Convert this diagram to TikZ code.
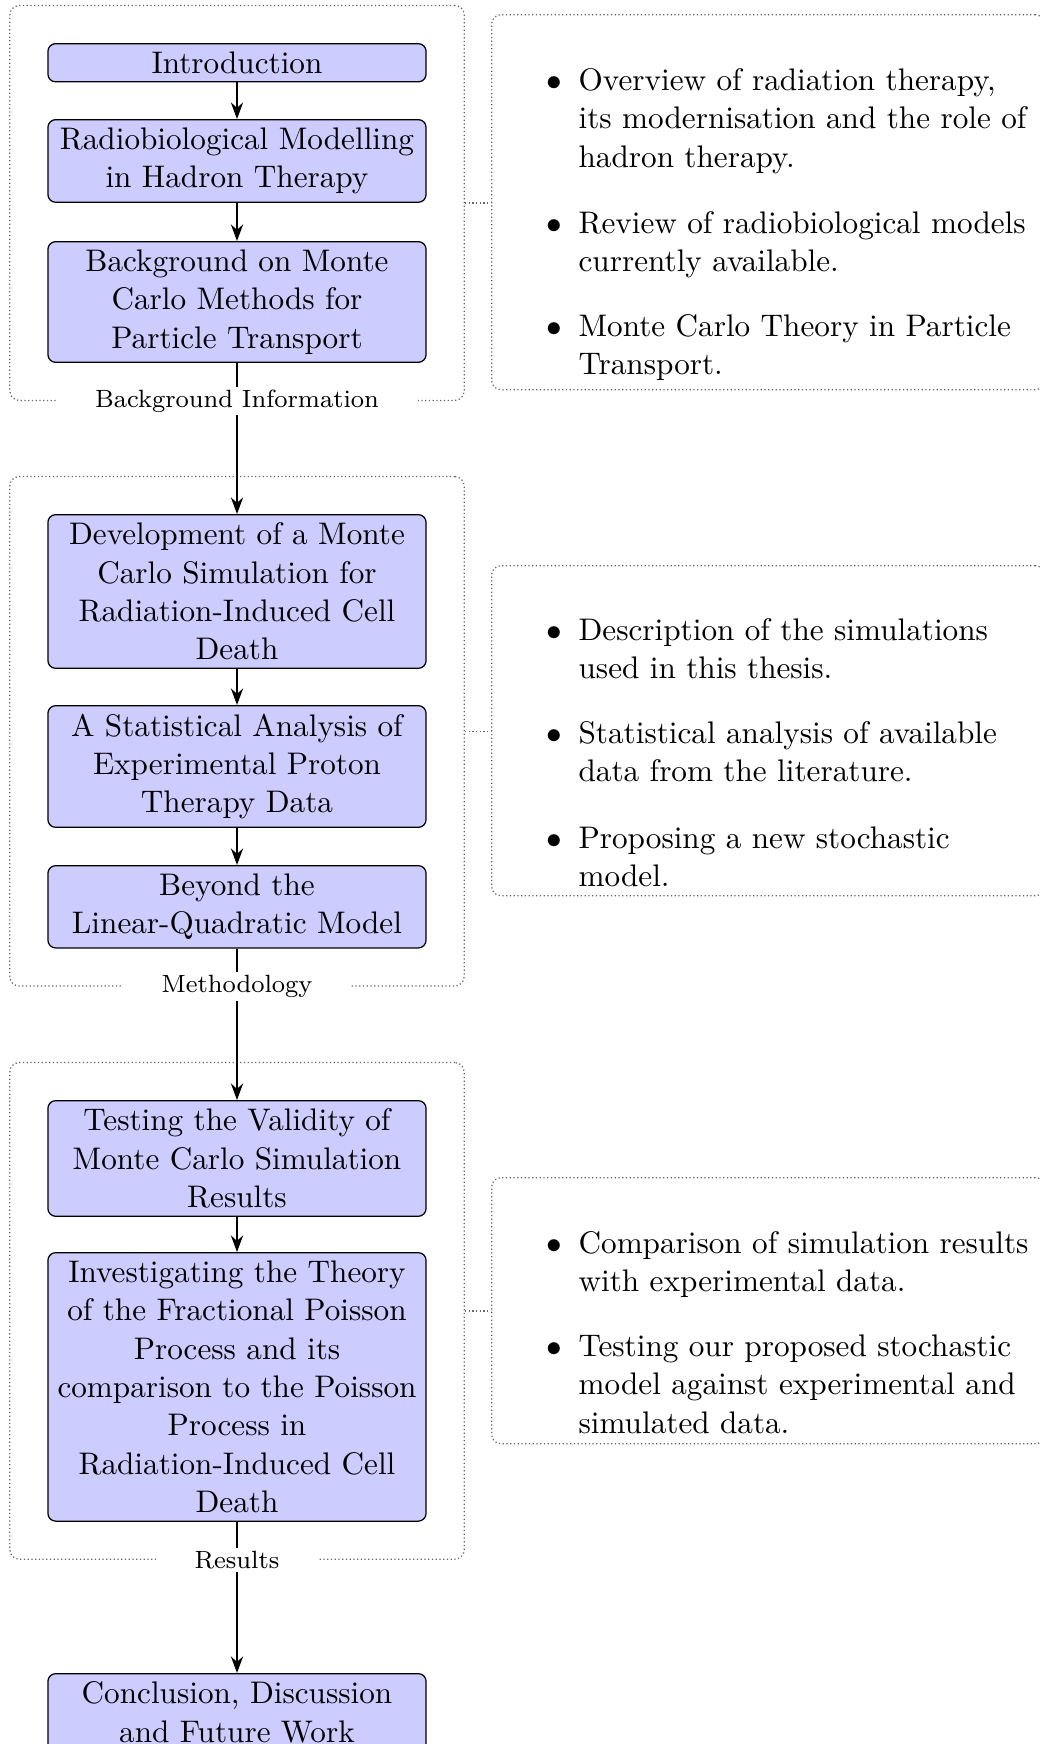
\documentclass[tikz,border=0pt]{standalone}
\usetikzlibrary{arrows.meta,fit,positioning}
\begin{document}
\begin{tikzpicture}[x=0.3205pt,y=-0.3205pt,
  stepbox/.style={draw, fill=blue!20, rounded corners=2.5pt, text width=116pt, align=center,
    inner sep=2.6pt, font=\fontsize{10}{12.3}\selectfont, anchor=north},
  groupbox/.style={draw=black!60, line width=0.4pt, dash pattern=on 0.4pt off 0.8pt, rounded corners=3pt, inner sep=12pt},
  infobox/.style={draw=black!60, line width=0.4pt, dash pattern=on 0.4pt off 0.8pt, rounded corners=3pt, anchor=north west, minimum width=177.2pt, inner sep=0pt},
  grouplabel/.style={fill=white, font=\footnotesize, inner xsep=12.5pt, inner ysep=1pt},
  itemtext/.style={anchor=base west, inner sep=0pt, text width=165pt, align=left, font=\fontsize{10}{12.3}\selectfont},
  bul/.style={anchor=base east, inner sep=0pt},
  flow/.style={-{Stealth[length=5.3pt,width=3.9pt]}, line width=0.6pt},
  link/.style={draw=black!60, line width=0.4pt, dash pattern=on 0.4pt off 0.8pt}]
\useasboundingbox (0,0) rectangle (1040,1744);

% left column
\node[stepbox] (intro) at (237,43) {Introduction};
\node[stepbox] (radio) at (237,119) {Radiobiological Modelling\\in Hadron Therapy};
\node[stepbox] (bgmc) at (237,241) {Background on Monte\\Carlo Methods for\\Particle Transport};
\node[stepbox] (dev) at (237,514) {Development of a Monte\\Carlo Simulation for\\Radiation-Induced Cell\\Death};
\node[stepbox] (stat) at (237,705) {A Statistical Analysis of\\Experimental Proton\\Therapy Data};
\node[stepbox] (beyond) at (237,865) {Beyond the\\Linear-Quadratic Model};
\node[stepbox] (test) at (237,1100) {Testing the Validity of\\Monte Carlo Simulation\\Results};
\node[stepbox] (inv) at (237,1252) {Investigating the Theory\\of the Fractional Poisson\\Process and its\\comparison to the Poisson\\Process in\\Radiation-Induced Cell\\Death};
\node[stepbox] (concl) at (237,1673) {Conclusion, Discussion\\and Future Work};

% groups
\node[groupbox, fit=(intro)(bgmc)] (g1) {};
\node[groupbox, fit=(dev)(beyond)] (g2) {};
\node[groupbox, fit=(test)(inv)] (g3) {};

% right boxes
\node[infobox, minimum height=120.2pt] (r1) at (491,14) {};
\node[infobox, minimum height=105.8pt] (r2) at (491,565) {};
\node[infobox, minimum height=85.3pt] (r3) at (491,1177) {};

\draw[link] (g1.east) -- (g1.east -| r1.west);
\draw[link] (g2.east) -- (g2.east -| r2.west);
\draw[link] (g3.east) -- (g3.east -| r3.west);

% items
\node[bul] (b11) at (562.4,90.5) {$\bullet$};
\node[itemtext] (t11) at (578,90.5) {Overview of radiation therapy,\\its modernisation and the role of\\hadron therapy.};
\node[bul] (b12) at (562.4,233) {$\bullet$};
\node[itemtext] (t12) at (578,233) {Review of radiobiological models\\currently available.};
\node[bul] (b13) at (562.4,336.5) {$\bullet$};
\node[itemtext] (t13) at (578,336.5) {Monte Carlo Theory in Particle\\Transport.};

\node[bul] (b21) at (562.4,640) {$\bullet$};
\node[itemtext] (t21) at (578,640) {Description of the simulations\\used in this thesis.};
\node[bul] (b22) at (562.4,743.5) {$\bullet$};
\node[itemtext] (t22) at (578,743.5) {Statistical analysis of available\\data from the literature.};
\node[bul] (b23) at (562.4,848) {$\bullet$};
\node[itemtext] (t23) at (578,848) {Proposing a new stochastic\\model.};

\node[bul] (b31) at (562.4,1253) {$\bullet$};
\node[itemtext] (t31) at (578,1253) {Comparison of simulation results\\with experimental data.};
\node[bul] (b32) at (562.4,1356.5) {$\bullet$};
\node[itemtext] (t32) at (578,1356.5) {Testing our proposed stochastic\\model against experimental and\\simulated data.};

% arrows
\draw[flow] (intro.south) -- (radio.north);
\draw[flow] (radio.south) -- (bgmc.north);
\draw[flow] (bgmc.south) -- (dev.north);
\draw[flow] (dev.south) -- (stat.north);
\draw[flow] (stat.south) -- (beyond.north);
\draw[flow] (beyond.south) -- (test.north);
\draw[flow] (test.south) -- (inv.north);
\draw[flow] (inv.south) -- (concl.north);

% group labels
\node[grouplabel] (l1) at (g1.south) {Background Information};
\node[grouplabel] (l2) at (g2.south) {Methodology};
\node[grouplabel] (l3) at (g3.south) {Results};
\end{tikzpicture}
\end{document}
